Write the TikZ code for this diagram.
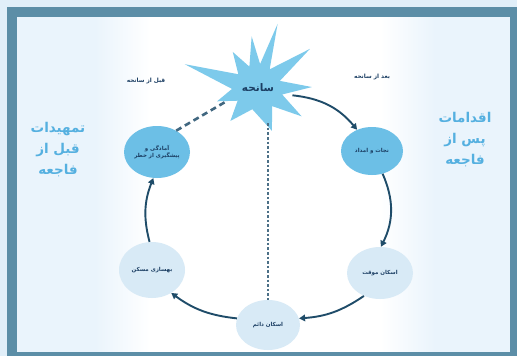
\documentclass[tikz,border=0pt]{standalone}
\usepackage{fontspec}
\newfontfamily\arabicfont[Script=Arabic]{DejaVu Sans}
\TeXXeTstate=1
\usetikzlibrary{arrows.meta,shapes.geometric}
\definecolor{bgout}{HTML}{E1EFF9}
\definecolor{framec}{HTML}{5C8EA7}
\definecolor{panel}{HTML}{EAF4FC}
\definecolor{darkc}{HTML}{6CBFE6}
\definecolor{lightc}{HTML}{D8EAF6}
\definecolor{starc}{HTML}{7DCAEB}
\definecolor{arr}{HTML}{1F4C69}
\definecolor{sidetxt}{HTML}{55B0E0}
\definecolor{txt}{HTML}{1B3E63}
\newcommand{\myrl}[1]{{\arabicfont\beginR #1\endR}}
\begin{document}
\begin{tikzpicture}[x=1pt,y=-1pt,
  phase/.style={ellipse,inner sep=0pt,minimum width=66pt,minimum height=52pt,
    align=center,text=txt,font=\arabicfont\bfseries\fontsize{5.5}{7.5}\selectfont},
  darkphase/.style={phase,fill=darkc},
  lightphase/.style={phase,fill=lightc},
  cyc/.style={draw=arr,line width=1.9pt,-{Triangle[length=6pt,width=6.5pt]}},
  sidelabel/.style={align=center,text=sidetxt,font=\arabicfont\bfseries\fontsize{13.5}{21}\selectfont},
  toplabel/.style={text=txt,font=\arabicfont\bfseries\fontsize{5.8}{7}\selectfont}]
\useasboundingbox (0,0) rectangle (517,356);
% frame
\fill[bgout] (0,0) rectangle (517,356);
\fill[framec] (7,7) rectangle (517,356);
\fill[panel] (17,17) rectangle (510,351.5);
\shade[left color=panel,right color=white] (95,17) rectangle (150,351.5);
\fill[white] (149.5,17) rectangle (380.5,351.5);
\shade[left color=white,right color=panel] (380,17) rectangle (435,351.5);
% star
\begin{scope}[shift={(258,88)}]
\fill[starc] (-1:54) -- (-18:23) -- (-37:65) -- (-58:22) -- (-73:67) -- (-85:24)
  -- (-97:52) -- (-112:23) -- (-125:44) -- (-145:24) -- (-162:77) -- (-182:26)
  -- (-198:43) -- (-212:24) -- (-230:43) -- (-255:22) -- (-288:45) -- (-308:23)
  -- (-327:52) -- (-345:25) -- cycle;
\end{scope}
\node[circle,minimum size=70pt,inner sep=0pt,text=txt,font=\arabicfont\bfseries\fontsize{10.5}{12}\selectfont]
  (star) at (258,88) {\myrl{سانحه}};
% phases
\node[darkphase] (tl) at (157,152) {\myrl{آمادگی و}\\\myrl{پیشگیری از خطر}};
\node[darkphase,minimum width=62pt,minimum height=48pt] (tr) at (372,151) {\myrl{نجات و امداد}};
\node[lightphase] (rl) at (380,273) {\myrl{اسکان موقت}};
\node[lightphase,minimum width=64pt,minimum height=50pt] (bot) at (268,325) {\myrl{اسکان دائم}};
\node[lightphase,minimum height=56pt] (ll) at (152,270) {\myrl{بهسازی مسکن}};
% labels
\node[toplabel] (before) at (146,81) {\myrl{قبل از سانحه}};
\node[toplabel] (after) at (372,77) {\myrl{بعد از سانحه}};
\node[sidelabel] (left) at (58,150) {\myrl{تمهیدات}\\\myrl{قبل از}\\\myrl{فاجعه}};
\node[sidelabel] (right) at (465,140) {\myrl{اقدامات}\\\myrl{پس از}\\\myrl{فاجعه}};
% connectors
\draw[cyc] (star.-12) to[bend left=22] (tr.125);
\draw[cyc] (tr.-65) to[bend left=25] (rl.88);
\draw[cyc] (rl.-125) to[bend left=15] (bot.12);
\draw[cyc] (bot.168) to[bend left=15] (ll.-50);
\draw[cyc] (ll.95) to[bend left=18] (tl.-98);
\draw[arr!85,line width=2.6pt,dash pattern=on 6pt off 4pt] (tl.48) -- (star.203);
\draw[arr!80,line width=2.6pt,dash pattern=on 2.6pt off 2pt] (bot.north |- star.south) -- (bot.north);
\end{tikzpicture}
\end{document}
